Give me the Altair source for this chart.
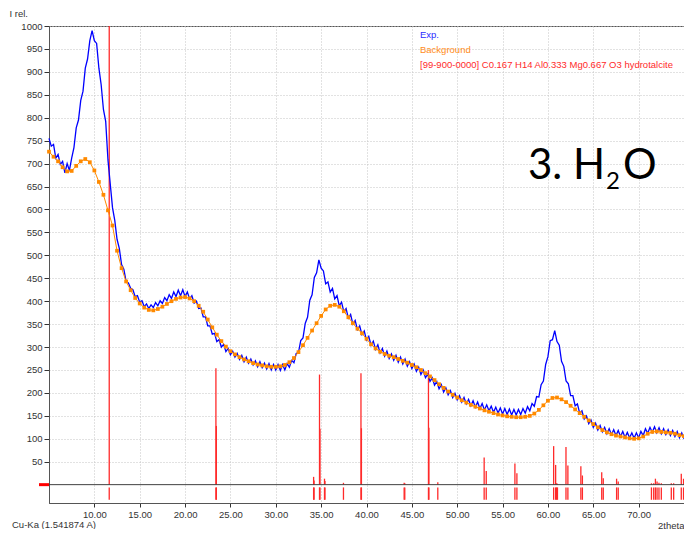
import altair as alt
import pandas as pd

# ---------------- data ----------------
theta_exp_start = 5.0
theta_exp_step = 0.25
exp_counts = [
    755, 738, 742, 712, 720, 698, 705, 680, 700, 685, 712, 735, 778, 795, 838, 858,
    908, 928, 968, 990, 968, 962, 908, 872, 818, 792, 708, 656, 604, 576, 535, 515,
    480, 470, 443, 440, 428, 425, 410, 412, 398, 401, 388, 394, 384, 392, 386, 397,
    390, 401, 395, 408, 401, 414, 406, 420, 410, 424, 412, 425, 410, 420, 405, 412,
    396, 400, 384, 385, 366, 366, 346, 346, 328, 330, 312, 316, 300, 306, 290, 297,
    283, 291, 278, 286, 273, 282, 268, 278, 265, 274, 261, 270, 257, 268, 255, 265,
    252, 264, 250, 262, 250, 262, 249, 262, 250, 264, 256, 271, 266, 286, 288, 314,
    320, 352, 365, 402, 414, 452, 462, 490, 472, 466, 438, 442, 420, 428, 405, 412,
    390, 398, 377, 384, 363, 371, 350, 358, 338, 346, 327, 335, 315, 323, 304, 313,
    295, 305, 287, 297, 280, 291, 275, 285, 271, 282, 267, 278, 263, 274, 258, 268,
    253, 263, 247, 256, 240, 250, 233, 241, 225, 233, 217, 225, 209, 218, 202, 211,
    196, 205, 190, 199, 185, 194, 180, 190, 176, 186, 172, 183, 169, 180, 166, 177,
    163, 174, 161, 171, 158, 169, 156, 167, 154, 166, 153, 165, 152, 164, 152, 164,
    153, 166, 156, 170, 161, 177, 171, 192, 191, 218, 226, 262, 279, 314, 316, 336,
    312, 304, 269, 258, 226, 220, 194, 194, 172, 176, 156, 161, 143, 150, 133, 141,
    125, 134, 119, 129, 115, 125, 111, 122, 109, 120, 107, 118, 105, 116, 103, 114,
    102, 113, 101, 113, 102, 116, 107, 122, 112, 125, 114, 126, 113, 124, 111, 122,
    109, 120, 107, 118, 105, 116, 102, 113, 100,
]
theta_exp = [theta_exp_start + i * theta_exp_step for i in range(len(exp_counts))]

theta_bg_start = 5.0
theta_bg_step = 0.5
bg_counts = [
    726, 715, 705, 692, 683, 684, 695, 705, 710, 703, 685, 660, 632, 598, 565, 510,
    472, 443, 424, 407, 395, 386, 381, 380, 383, 388, 394, 400, 405, 408, 409, 406,
    400, 390, 377, 360, 343, 327, 313, 301, 291, 284, 278, 273, 269, 265, 262, 260,
    258, 257, 257, 258, 261, 267, 276, 289, 304, 320, 336, 352, 368, 382, 390, 392,
    388, 378, 365, 352, 340, 330, 318, 306, 297, 290, 285, 281, 278, 274, 270, 266,
    261, 256, 250, 243, 236, 228, 219, 211, 203, 196, 190, 184, 179, 174, 170, 166,
    162, 159, 156, 153, 151, 149, 148, 147, 147, 148, 150, 155, 163, 173, 183, 189,
    190, 186, 180, 172, 164, 156, 148, 140, 132, 125, 119, 114, 110, 107, 105, 103,
    101, 100, 101, 105, 111, 115, 116, 115, 114, 113, 111, 108, 106,
]
theta_bg = [theta_bg_start + i * theta_bg_step for i in range(len(bg_counts))]

ref_theta = [11.64, 23.40, 23.45, 34.17, 34.22, 34.82, 34.87, 35.37, 35.42, 37.46,
             39.39, 39.44, 44.15, 44.22, 46.83, 46.88, 47.86, 52.97, 53.20, 56.36,
             56.58, 60.63, 60.85, 60.95, 61.05, 61.99, 62.20, 63.63, 63.80, 65.93,
             66.10, 67.57, 67.75, 71.41, 71.66, 71.85, 72.03, 72.24, 72.50, 73.60,
             73.86, 74.70, 74.95]
ref_int = [1000, 254, 128, 17, 9, 240, 122, 13, 8, 4,
           243, 123, 4, 3, 250, 124, 5, 59, 30, 46,
           25, 84, 43, 3, 2, 82, 42, 40, 20, 27,
           14, 13, 7, 3, 3, 13, 7, 4, 3, 3,
           3, 24, 13]

x_ticks = [10, 15, 20, 25, 30, 35, 40, 45, 50, 55, 60, 65, 70]
y_ticks = list(range(50, 1001, 50))

legend_labels = ["Exp.", "Background",
                 "[99-900-0000] C0.167 H14 Al0.333 Mg0.667 O3 hydrotalcite"]
legend_colors = ["#2a2aff", "#ff8c1a", "#ff2a2a"]

# ---------------- frames ----------------
exp_df = pd.DataFrame({"theta": theta_exp, "I": exp_counts})
bg_df = pd.DataFrame({"theta": theta_bg, "I": bg_counts})
ref_df = pd.DataFrame({"theta": ref_theta, "I": ref_int, "base": [0] * len(ref_theta)})
one = pd.DataFrame({"k": [0]})

FONT = "Liberation Sans"
BLUE = "#0000ff"
ORANGE = "#ff8a00"
RED = "#ff2a2a"

W, H = 635, 477

xscale = alt.Scale(domain=[5, 75], nice=False, zero=False)
yscale = alt.Scale(domain=[-40, 1000], nice=False, zero=False)

x_axis = alt.Axis(values=x_ticks, format=".2f", title="2theta",
                  grid=True, gridDash=[1, 2], gridColor="#c4c4c4",
                  labelFont=FONT, labelFontSize=9.5, labelColor="#333",
                  tickColor="#333", tickSize=4, domainColor="#555",
                  labelPadding=2, labelOverlap=False,
                  titleFont=FONT, titleFontSize=9.5, titleColor="#333",
                  titleFontWeight="normal",
                  titleAlign="right", titleX=W, titleY=22,
                  titleBaseline="middle")
y_axis = alt.Axis(values=y_ticks, format="d", title="I rel.", grid=True,
                  gridDash=[1, 2], gridColor="#c4c4c4",
                  labelFont=FONT, labelFontSize=9.5, labelColor="#333",
                  tickColor="#333", tickSize=5, domainColor="#555",
                  labelPadding=2, labelOverlap=False,
                  titleFont=FONT, titleFontSize=9.5, titleColor="#333",
                  titleFontWeight="normal", titleAngle=0,
                  titleAlign="left", titleX=-40, titleY=-13,
                  titleBaseline="middle")

xq = alt.X("theta:Q", scale=xscale, axis=x_axis)
yq = alt.Y("I:Q", scale=yscale, axis=y_axis)

ref_lines = alt.Chart(ref_df).mark_rule(color=RED, strokeWidth=1.3).encode(
    x=xq, y=yq, y2="base:Q")

ref_ticks = alt.Chart(ref_df).mark_rule(color=RED, strokeWidth=1.3).encode(
    x=xq, y=alt.datum(-6, scale=yscale, axis=y_axis), y2=alt.datum(-33))

zero_line = alt.Chart(one).mark_rule(color="#404040", strokeWidth=1).encode(
    y=alt.datum(0, scale=yscale, axis=y_axis))

stub = alt.Chart(one).mark_rule(color="#ff0000", strokeWidth=3).encode(
    x=alt.value(-10), x2=alt.value(0), y=alt.datum(0, scale=yscale, axis=y_axis))

exp_line = alt.Chart(exp_df).mark_line(color=BLUE, strokeWidth=1.3).encode(
    x=xq, y=yq)

bg_line = alt.Chart(bg_df).mark_line(color=ORANGE, strokeWidth=1).encode(
    x=xq, y=yq)
bg_pts = alt.Chart(bg_df).mark_square(color=ORANGE, size=14, opacity=1).encode(
    x=xq, y=yq)

legend_layers = []
for i, (lab, col) in enumerate(zip(legend_labels, legend_colors)):
    legend_layers.append(
        alt.Chart(one).mark_text(text=lab, font=FONT, fontSize=9.5, align="left",
                                 baseline="middle", color=col).encode(
            x=alt.value(371), y=alt.value(9 + 15 * i)))

big_font = "Lato"
big1 = alt.Chart(one).mark_text(text="3. H", font=big_font, fontSize=42,
                                align="left", baseline="alphabetic",
                                color="#000").encode(
    x=alt.value(479), y=alt.value(153))
big2 = alt.Chart(one).mark_text(text="2", font=big_font, fontSize=24,
                                align="left", baseline="alphabetic",
                                color="#000").encode(
    x=alt.value(557), y=alt.value(163))
big3 = alt.Chart(one).mark_text(text="O", font=big_font, fontSize=42,
                                align="left", baseline="alphabetic",
                                color="#000").encode(
    x=alt.value(574), y=alt.value(153))

footer = alt.Chart(one).mark_text(text="Cu-Ka (1.541874 A)", font=FONT,
                                  fontSize=9.5, align="left",
                                  baseline="middle", color="#333").encode(
    x=alt.value(-37), y=alt.value(499))

chart = alt.layer(
    ref_lines, ref_ticks, zero_line, stub, exp_line, bg_line, bg_pts,
    *legend_layers, big1, big2, big3, footer
).properties(
    width=W, height=H,
    autosize=alt.AutoSizeParams(type="none"),
    padding={"left": 41, "top": 18, "right": 0, "bottom": 26},
).configure_view(stroke="#555", strokeWidth=1).configure_axis(
    labelOverlap=False, labelFlush=False)

chart.save("out.html", embed_options={"renderer": "svg", "actions": False})
